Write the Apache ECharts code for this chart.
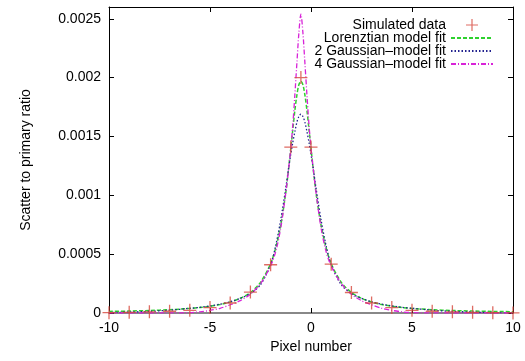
<!DOCTYPE html>
<html>
<head>
<meta charset="utf-8">
<script src="https://cdn.jsdelivr.net/npm/echarts@6/dist/echarts.min.js"></script>
<style>html,body{margin:0;padding:0;background:#fff}#c{width:525px;height:361px}</style>
</head>
<body>
<div id="c"></div>
<script>
// Simulated data (red crosses)
const dataX = [-10, -9, -8, -7, -6, -5, -4, -3, -2, -1, -0.5, 0, 1, 2, 3, 4, 5, 6, 7, 8, 9, 10];
const dataY = [0.000003, 0.000006, 0.00001, 0.000015, 0.000023, 0.000046, 0.000085, 0.000178, 0.00041, 0.00141, 0.002, 0.00141, 0.000415, 0.000174, 0.000085, 0.000046, 0.000023, 0.000015, 0.00001, 0.000006, 0.000003, 0.000001];

// Model curves, sampled along x
const curveX = [-10, -9, -8, -7, -6, -5.5, -5, -4.5, -4, -3.5, -3, -2.5, -2, -1.75, -1.5, -1.25, -1.1, -1, -0.9, -0.8, -0.7, -0.6, -0.5, -0.4, -0.3, -0.2, -0.1, 0, 0.1, 0.25, 0.5, 0.75, 1, 1.5, 2, 2.5, 3, 3.5, 4, 4.5, 5, 6, 7, 8, 9, 10];
const lorentzY = [0.0000133, 0.0000166, 0.000021, 0.000028, 0.000039, 0.000047, 0.000057, 0.000072, 0.000093, 0.000125, 0.000174, 0.00026, 0.000419, 0.000552, 0.000745, 0.00102, 0.00124, 0.0014, 0.00156, 0.00172, 0.00185, 0.00194, 0.00197, 0.00194, 0.00185, 0.00172, 0.00156, 0.0014, 0.00124, 0.00102, 0.000745, 0.000552, 0.000419, 0.00026, 0.000174, 0.000125, 0.000093, 0.000072, 0.000057, 0.000047, 0.000039, 0.000028, 0.000021, 0.0000166, 0.0000133, 0.0000109];
const gauss2Y = [0.000004, 0.000008, 0.000014, 0.000024, 0.00004, 0.000048, 0.00006, 0.000075, 0.000095, 0.000125, 0.000165, 0.00024, 0.00041, 0.00057, 0.00079, 0.00106, 0.00124, 0.00135, 0.00145, 0.00154, 0.00162, 0.00167, 0.00169, 0.00167, 0.00162, 0.00154, 0.00145, 0.00135, 0.00124, 0.00106, 0.00079, 0.00057, 0.00041, 0.00024, 0.000165, 0.000125, 0.000095, 0.000075, 0.00006, 0.000048, 0.00004, 0.000024, 0.000014, 0.000008, 0.000004, 0.000002];
const gauss4Y = [0, 0, 0, 0.000001, 0.000003, 0.00001, 0.000022, 0.00004, 0.00007, 0.000105, 0.00016, 0.00025, 0.0004, 0.00052, 0.00072, 0.00102, 0.00124, 0.0014, 0.0016, 0.00185, 0.00212, 0.00238, 0.00254, 0.00238, 0.00212, 0.00185, 0.0016, 0.0014, 0.00124, 0.00102, 0.00072, 0.00052, 0.0004, 0.00025, 0.00016, 0.000105, 0.00007, 0.00004, 0.000022, 0.00001, 0.000003, 0.000001, 0, 0, 0, 0];

const xTicks = [-10, -5, 0, 5, 10];
const yTickStep = 0.0005;

const FONT = 'Liberation Sans';
const zip = (xs, ys) => xs.map((x, i) => [x, ys[i]]);
const plus = 'path://M0.45,0 L0.55,0 L0.55,0.45 L1,0.45 L1,0.55 L0.55,0.55 L0.55,1 L0.45,1 L0.45,0.55 L0,0.55 L0,0.45 L0.45,0.45 Z';

const chart = echarts.init(document.getElementById('c'), null, {renderer: 'canvas'});
const yFmt = v => {
  const k = v / yTickStep;
  if (Math.abs(k - Math.round(k)) > 1e-6) return '';
  return v === 0 ? '0' : String(+v.toFixed(4));
};
const noSym = {opacity: 0};
chart.setOption({
  animation: false,
  backgroundColor: '#fff',
  textStyle: {fontFamily: FONT},
  grid: {left: 109, right: 12, top: 7, bottom: 48},
  legend: {
    orient: 'vertical', align: 'right', right: 26, top: 13,
    itemWidth: 42, itemHeight: 12, itemGap: -1,
    textStyle: {fontFamily: FONT, fontSize: 14, color: '#000'},
    data: [
      {name: 'Simulated data'},
      {name: 'Lorenztian model fit', itemStyle: noSym},
      {name: '2 Gaussian\u2013model fit', itemStyle: noSym},
      {name: '4 Gaussian\u2013model fit', itemStyle: noSym}
    ]
  },
  xAxis: [{
    type: 'value', min: xTicks[0], max: xTicks[xTicks.length - 1], interval: 5,
    name: 'Pixel number', nameLocation: 'middle', nameGap: 27,
    nameTextStyle: {fontFamily: FONT, fontSize: 14, color: '#000'},
    axisLine: {onZero: false, lineStyle: {color: '#888', width: 2}},
    axisTick: {inside: true, length: 5, lineStyle: {color: '#000'}},
    axisLabel: {fontFamily: FONT, fontSize: 14, color: '#000', margin: 8},
    splitLine: {show: false}
  }, {
    type: 'value', position: 'top', min: -10, max: 10, interval: 5,
    axisLine: {onZero: false, lineStyle: {color: '#000', width: 1}},
    axisTick: {inside: true, length: 5, lineStyle: {color: '#000'}},
    axisLabel: {show: false}, splitLine: {show: false}
  }],
  yAxis: [{
    type: 'value', min: 0, max: 0.0026, interval: yTickStep,
    name: 'Scatter to primary ratio', nameLocation: 'middle', nameGap: 76, nameRotate: 90,
    nameTextStyle: {fontFamily: FONT, fontSize: 14, color: '#000'},
    axisLine: {show: true, onZero: false, lineStyle: {color: '#000', width: 1}},
    axisTick: {inside: true, length: 5, lineStyle: {color: '#000'}},
    axisLabel: {fontFamily: FONT, fontSize: 14, color: '#000', margin: 8, formatter: yFmt},
    splitLine: {show: false}
  }, {
    type: 'value', position: 'right', min: 0, max: 0.0026, interval: yTickStep,
    axisLine: {show: true, onZero: false, lineStyle: {color: '#000', width: 1}},
    axisTick: {inside: true, length: 5, lineStyle: {color: '#000'}},
    axisLabel: {show: false}, splitLine: {show: false}
  }],
  series: [{
    name: 'Simulated data', type: 'scatter', data: zip(dataX, dataY),
    symbol: plus, symbolSize: 13, z: 5,
    itemStyle: {color: '#d6473c'}
  }, {
    name: 'Lorenztian model fit', type: 'line', data: zip(curveX, lorentzY),
    smooth: 0.3, showSymbol: false, symbol: 'none',
    lineStyle: {color: '#2ed12e', width: 1.5, type: [4, 2]},
    itemStyle: {color: '#2ed12e'}
  }, {
    name: '2 Gaussian\u2013model fit', type: 'line', data: zip(curveX, gauss2Y),
    smooth: 0.3, showSymbol: false, symbol: 'none',
    lineStyle: {color: '#22228f', width: 1.3, type: [1.5, 2]},
    itemStyle: {color: '#22228f'}
  }, {
    name: '4 Gaussian\u2013model fit', type: 'line', data: zip(curveX, gauss4Y),
    smooth: 0.3, showSymbol: false, symbol: 'none',
    lineStyle: {color: '#d822d8', width: 1.3, type: [5, 2, 1, 2]},
    itemStyle: {color: '#d822d8'}
  }]
});
</script>
</body>
</html>
